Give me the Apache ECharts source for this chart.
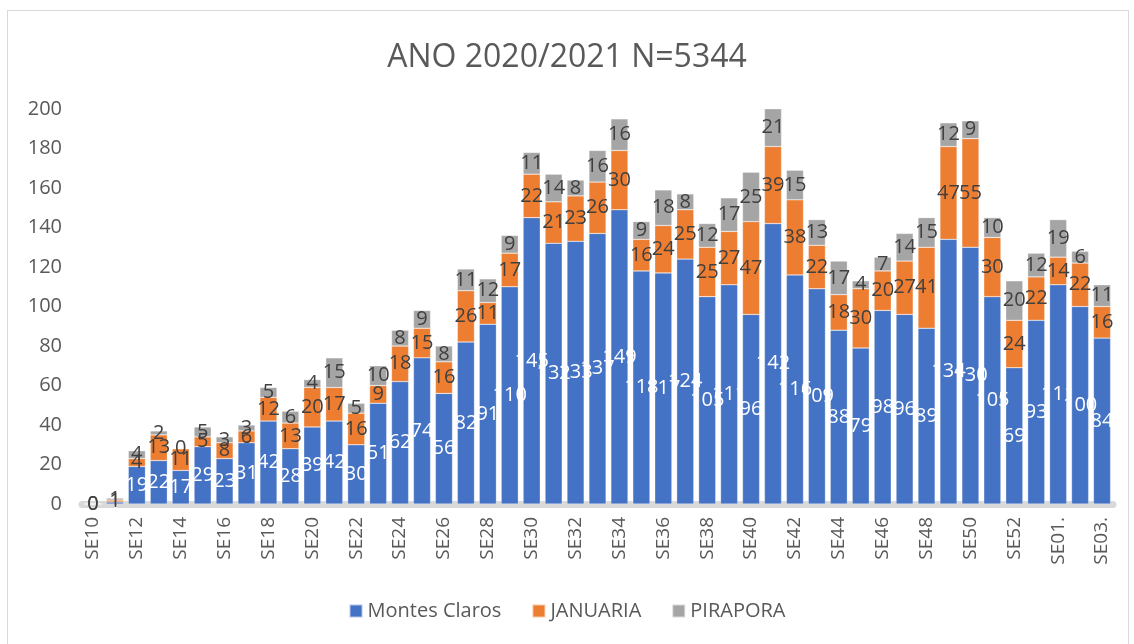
<!DOCTYPE html>
<html>
<head>
<meta charset="utf-8">
<script src="https://cdn.jsdelivr.net/npm/echarts@6/dist/echarts.min.js"></script>
<style>
html,body{margin:0;padding:0;background:#fff;}
#frame{position:absolute;left:7px;top:10px;width:1122px;height:640px;border:1px solid #d9d9d9;box-sizing:border-box;}
#chart{position:absolute;left:0;top:0;width:1134px;height:644px;}
</style>
</head>
<body>
<div id="frame"></div>
<div id="chart"></div>
<script>
var categories = ["SE10","SE11","SE12","SE13","SE14","SE15","SE16","SE17","SE18","SE19","SE20","SE21","SE22","SE23","SE24","SE25","SE26","SE27","SE28","SE29","SE30","SE31","SE32","SE33","SE34","SE35","SE36","SE37","SE38","SE39","SE40","SE41","SE42","SE43","SE44","SE45","SE46","SE47","SE48","SE49","SE50","SE51","SE52","SE53","SE01.","SE02.","SE03."];
var montesClaros = [0,1,19,22,17,29,23,31,42,28,39,42,30,51,62,74,56,82,91,110,145,132,133,137,149,118,117,124,105,111,96,142,116,109,88,79,98,96,89,134,130,105,69,93,111,100,84];
var januaria = [0,1,4,13,11,5,8,6,12,13,20,17,16,9,18,15,16,26,11,17,22,21,23,26,30,16,24,25,25,27,47,39,38,22,18,30,20,27,41,47,55,30,24,22,14,22,16];
var pirapora = [0,1,4,2,0,5,3,3,5,6,4,15,5,10,8,9,8,11,12,9,11,14,8,16,16,9,18,8,12,17,25,21,15,13,17,4,7,14,15,12,9,10,20,12,19,6,11];
var yTicks = {min:0, max:200, interval:20};

var FONT = '"Open Sans", "Noto Sans", sans-serif';
var chart = echarts.init(document.getElementById('chart'), null, {renderer:'canvas'});
function mk(name, data, color, labelColor){
  return {
    name:name, type:'bar', stack:'total', data:data, barCategoryGap:'22%',
    itemStyle:{color:color, borderColor:'rgba(255,255,255,0.6)', borderWidth:0.5},
    label:{show:true, position:'inside', color:labelColor, fontSize:20, fontFamily:FONT, overflow:'none'},
    labelLayout:{hideOverlap:false}
  };
}
chart.setOption({
  animation:false,
  title:{text:'ANO 2020/2021 N=5344', left:'center', top:37,
    textStyle:{fontSize:32, fontWeight:'normal', color:'#595959', fontFamily:FONT}},
  legend:{bottom:18, left:'center', itemWidth:13, itemHeight:13, itemGap:30, icon:'rect',
    textStyle:{fontSize:20, color:'#595959', fontFamily:FONT}},
  grid:{left:82, right:21, top:109, bottom:140, containLabel:false},
  xAxis:{type:'category', data:categories,
    axisLine:{lineStyle:{color:'#d9d9d9', width:7}},
    axisTick:{show:false},
    axisLabel:{rotate:90, interval:1, fontSize:19, color:'#595959', fontFamily:FONT, margin:13}},
  yAxis:{type:'value', min:yTicks.min, max:yTicks.max, interval:yTicks.interval,
    splitLine:{show:false}, axisLine:{show:false}, axisTick:{show:false},
    axisLabel:{fontSize:20, color:'#595959', fontFamily:FONT, margin:20}},
  series:[
    mk('Montes Claros', montesClaros, '#4472C4', '#ffffff'),
    mk('JANUARIA', januaria, '#ED7D31', '#404040'),
    mk('PIRAPORA', pirapora, '#A5A5A5', '#404040')
  ]
});
</script>
</body>
</html>
